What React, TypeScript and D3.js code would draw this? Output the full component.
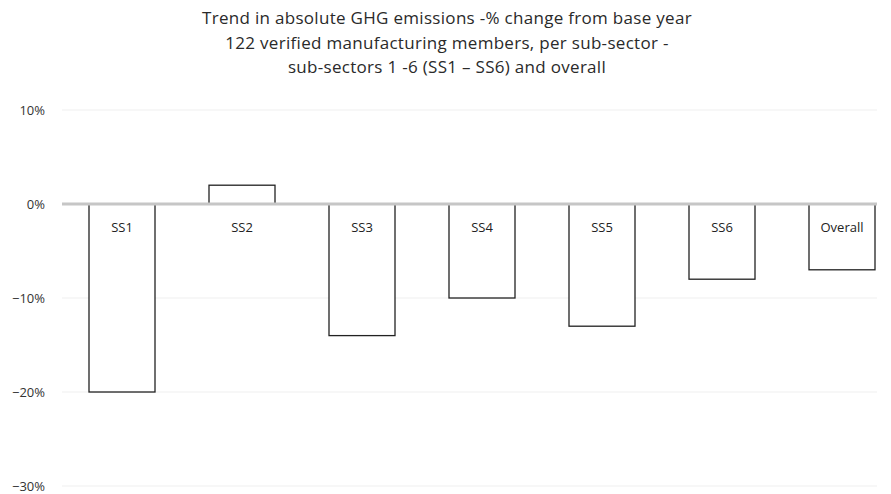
import React from "react";
import * as d3 from "d3";

const categories = ["SS1", "SS2", "SS3", "SS4", "SS5", "SS6", "Overall"];
const values = [-20, 2, -14, -10, -13, -8, -7];
const yTicks = [10, 0, -10, -20, -30];
const titleLines = [
  "Trend in absolute GHG emissions -% change from base year",
  "122 verified manufacturing members, per sub-sector -",
  "sub-sectors 1 -6 (SS1 – SS6) and overall",
];

const W = 891;
const H = 494;
const font = "'Open Sans', 'Liberation Sans', sans-serif";

export default function App() {
  const x = d3.scaleBand<string>().domain(categories).range([62, 902]).paddingInner(0.45).paddingOuter(0.225);
  const y = d3.scaleLinear().domain([-30, 10]).range([486, 110]);
  const gridX0 = 62;
  const gridX1 = 877;
  const fmt = (v: number) => (v < 0 ? "\u2212" + Math.abs(v) : String(v)) + "%";
  return (
    <svg width={W} height={H} style={{ position: "absolute", left: 0, top: 0, background: "#fff" }}>
      {titleLines.map((t, i) => (
        <text key={i} x={447} y={24 + i * 24.5} textAnchor="middle" fontFamily={font} fontSize={17} letterSpacing={0.3} fill="#2a2a2a">
          {t}
        </text>
      ))}
      {yTicks.map((t) => (
        <g key={t}>
          {t !== 0 && <line x1={gridX0} x2={gridX1} y1={y(t)} y2={y(t)} stroke="#efefef" strokeWidth={1} />}
          <text x={45} y={y(t)} dy="0.35em" textAnchor="end" fontFamily={font} fontSize={13} fill="#333">
            {fmt(t)}
          </text>
        </g>
      ))}
      {categories.map((c, i) => {
        const v = values[i];
        const y0 = y(Math.max(0, v));
        const y1 = y(Math.min(0, v));
        return (
          <g key={c}>
            <rect x={x(c)!} y={y0} width={x.bandwidth()} height={y1 - y0} fill="#fff" stroke="#222" strokeWidth={1.3} />
            <text x={x(c)! + x.bandwidth() / 2} y={y(0) + 23} dy="0.35em" textAnchor="middle" fontFamily={font} fontSize={13} fill="#222">
              {c}
            </text>
          </g>
        );
      })}
      <line x1={gridX0} x2={gridX1} y1={y(0)} y2={y(0)} stroke="#c6c6c6" strokeWidth={3} />
    </svg>
  );
}
